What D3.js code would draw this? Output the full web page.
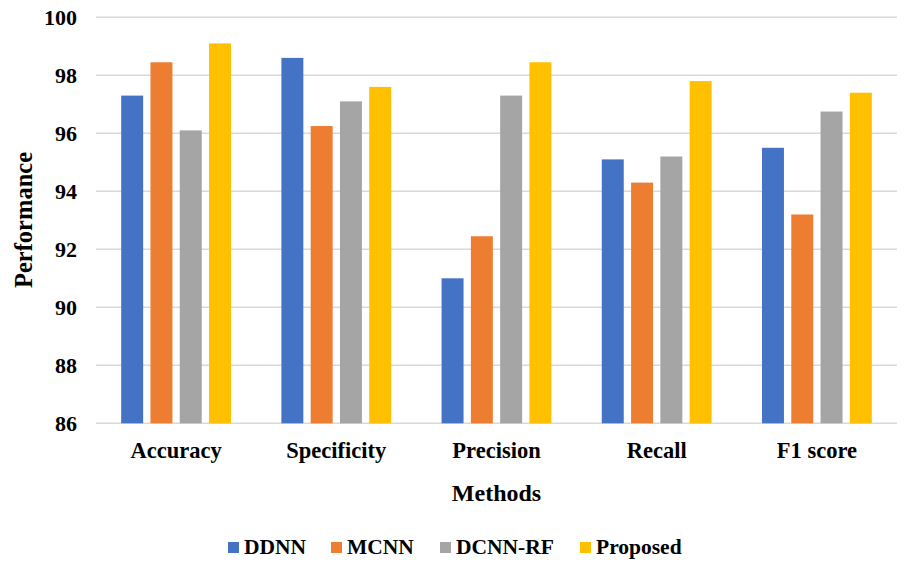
<!DOCTYPE html>
<html>
    <head>
        <script src="https://cdnjs.cloudflare.com/ajax/libs/d3/7.8.5/d3.min.js"></script>
        <title>Performance by method</title>
        <style>
            html, body {
                margin: 0;
                background: #ffffff;
            }
            svg text {
                font-family: "Liberation Serif", "Times New Roman", serif;
                font-weight: bold;
                fill: #000000;
            }
        </style>
    </head>
    <body>
        <svg width="907" height="564" class="chart"></svg>
        <script>
            var categories = ["Accuracy", "Specificity", "Precision", "Recall", "F1 score"];
            var seriesNames = ["DDNN", "MCNN", "DCNN-RF", "Proposed"];
            var ddnn = [97.3, 98.6, 91.0, 95.1, 95.5];
            var mcnn = [98.45, 96.25, 92.45, 94.3, 93.2];
            var dcnnRf = [96.1, 97.1, 97.3, 95.2, 96.75];
            var proposed = [99.1, 97.6, 98.45, 97.8, 97.4];
            var yTicks = [86, 88, 90, 92, 94, 96, 98, 100];
            var colors = ["#4472C4", "#ED7D31", "#A5A5A5", "#FFC000"];

            var series = [ddnn, mcnn, dcnnRf, proposed];

            var svg = d3.select(".chart");
            var plotLeft = 96, plotRight = 897, plotTop = 17.3, plotBottom = 423.3;

            var x = d3.scaleBand().domain(categories).range([plotLeft, plotRight]).paddingInner(0).paddingOuter(0);
            var xs = d3.scaleBand().domain(seriesNames)
                .range([0, x.bandwidth()]).paddingInner(0.25).paddingOuter(0.86);
            var y = d3.scaleLinear().domain([86, 100]).range([plotBottom, plotTop]);

            // gridlines
            svg.append("g")
                .selectAll("line")
                .data(yTicks)
                .enter()
                .append("line")
                .attr("x1", plotLeft)
                .attr("x2", plotRight)
                .attr("y1", function(d){ return y(d); })
                .attr("y2", function(d){ return y(d); })
                .attr("stroke", "#d9d9d9")
                .attr("stroke-width", 1.5);

            // y tick labels
            var yAxis = svg.append("g")
                .attr("transform", "translate(" + (plotLeft - 19) + ",0)")
                .call(d3.axisLeft(y).tickValues(yTicks).tickSize(0).tickPadding(0));
            yAxis.select(".domain").remove();
            yAxis.selectAll("text")
                .attr("font-size", 22)
                .attr("font-family", null);

            // bars
            var groups = svg.append("g")
                .selectAll("g")
                .data(series)
                .enter()
                .append("g")
                .attr("fill", function(d, i){ return colors[i]; });

            groups.selectAll("rect")
                .data(function(d, i){
                    return d.map(function(v, j){ return {cat: categories[j], name: seriesNames[i], value: v}; });
                })
                .enter()
                .append("rect")
                .attr("x", function(d){ return x(d.cat) + xs(d.name); })
                .attr("y", function(d){ return y(d.value); })
                .attr("width", xs.bandwidth())
                .attr("height", function(d){ return y(86) - y(d.value); });

            // x category labels
            var xAxis = svg.append("g")
                .attr("transform", "translate(0," + plotBottom + ")")
                .call(d3.axisBottom(x).tickSize(0).tickPadding(19));
            xAxis.select(".domain").remove();
            xAxis.selectAll("text")
                .attr("font-size", 22.5)
                .attr("font-family", null);

            // axis titles
            svg.append("text")
                .attr("x", (plotLeft + plotRight) / 2)
                .attr("y", 501)
                .attr("text-anchor", "middle")
                .attr("font-size", 24)
                .text("Methods");

            svg.append("text")
                .attr("transform", "translate(32,220) rotate(-90)")
                .attr("text-anchor", "middle")
                .attr("font-size", 24.5)
                .text("Performance");

            // legend
            var legendX = [228, 331, 440, 580];
            var legend = svg.append("g")
                .selectAll("g")
                .data(seriesNames)
                .enter()
                .append("g")
                .attr("transform", function(d, i){ return "translate(" + legendX[i] + ",542)"; });

            legend.append("rect")
                .attr("width", 11)
                .attr("height", 11)
                .attr("fill", function(d, i){ return colors[i]; });

            legend.append("text")
                .attr("x", 16)
                .attr("y", 11.5)
                .attr("font-size", 21.5)
                .text(function(d){ return d; });
        </script>
    </body>
</html>
